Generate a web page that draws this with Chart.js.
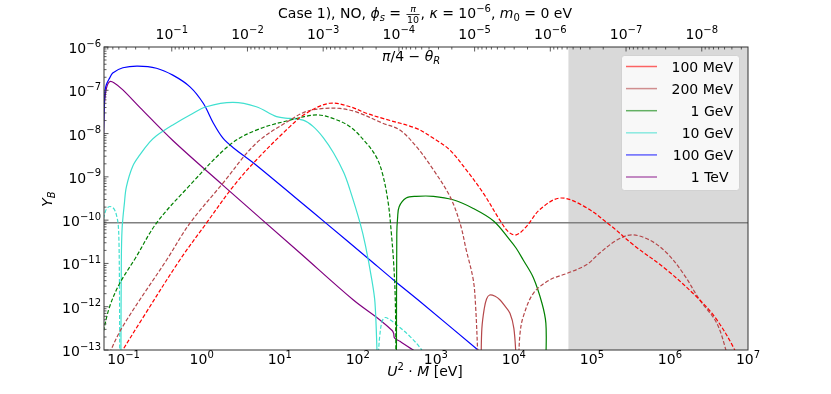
<!DOCTYPE html>
<html>
<head>
<meta charset="utf-8">
<script src="https://cdn.jsdelivr.net/npm/chart.js@4/dist/chart.umd.min.js"></script>
<style>
body { margin: 0; background: #fff; }
canvas { display: block; }
</style>
</head>
<body>
<canvas id="myChart" width="831" height="394"></canvas>
<script>
// curves, as [log10(U^2 M / eV), log10(Y_B)]
// dashed pieces are the negative branches (|Y_B| shown)
const red_dash = [[-1.08,-13.2],[-0.77,-12.30],[-0.28,-10.92],[0.06,-10.07],[0.40,-9.23],[0.70,-8.61],[1.13,-7.84],[1.34,-7.53],[1.64,-7.30],[1.90,-7.38],[2.11,-7.53],[2.32,-7.65],[2.75,-7.88],[2.97,-8.11],[3.18,-8.38],[3.39,-8.84],[3.61,-9.38],[3.82,-10.0],[3.93,-10.27],[4.03,-10.34],[4.16,-10.15],[4.33,-9.76],[4.59,-9.49],[4.89,-9.67],[5.23,-10.11],[5.53,-10.57],[5.96,-11.15],[6.38,-11.84],[6.60,-12.30],[6.83,-13.0],[6.85,-13.2]];

const brown_dash1 = [[-1.215,-13.2],[-1.01,-12.45],[-0.45,-10.92],[-0.15,-10.07],[0.27,-9.15],[0.70,-8.22],[1.13,-7.69],[1.34,-7.49],[1.56,-7.42],[1.77,-7.42],[1.98,-7.50],[2.32,-7.76],[2.54,-7.92],[2.75,-8.30],[2.97,-8.84],[3.18,-9.45],[3.31,-10.07],[3.39,-10.69],[3.48,-11.38],[3.51,-12.0],[3.54,-13.2]];
const brown_solid = [[3.58,-13.2],[3.59,-12.5],[3.62,-12.05],[3.65,-11.82],[3.69,-11.73],[3.76,-11.76],[3.82,-11.84],[3.88,-11.97],[3.95,-12.15],[4.00,-12.5],[4.03,-13.2]];
const brown_dash2 = [[4.06,-13.2],[4.08,-12.6],[4.12,-12.23],[4.25,-11.69],[4.46,-11.38],[4.68,-11.23],[4.93,-11.03],[5.10,-10.76],[5.32,-10.46],[5.51,-10.34],[5.74,-10.46],[5.96,-10.76],[6.17,-11.23],[6.38,-11.84],[6.60,-12.38],[6.75,-13.2]];

const green_dash = [[-1.26,-12.57],[-1.18,-12.0],[-1.05,-11.46],[-0.85,-10.88],[-0.58,-10.07],[-0.18,-9.25],[0.36,-8.26],[0.70,-7.92],[1.13,-7.69],[1.47,-7.57],[1.68,-7.65],[1.90,-7.84],[2.11,-8.22],[2.24,-8.55],[2.32,-8.95],[2.39,-9.6],[2.43,-10.3],[2.46,-11.0],[2.48,-11.8],[2.49,-13.2]];
const green_solid = [[2.495,-13.2],[2.50,-10.3],[2.51,-9.95],[2.53,-9.69],[2.62,-9.49],[2.75,-9.45],[2.97,-9.45],[3.22,-9.53],[3.48,-9.73],[3.74,-10.02],[3.95,-10.46],[4.03,-10.65],[4.12,-10.92],[4.25,-11.33],[4.36,-11.92],[4.41,-12.38],[4.412,-13.2]];

const cyan_dash1 = [[-1.26,-9.97],[-1.23,-9.78],[-1.20,-9.70],[-1.16,-9.69],[-1.12,-9.75],[-1.09,-9.90],[-1.07,-10.1],[-1.06,-10.5],[-1.055,-11.2],[-1.052,-12.0],[-1.05,-13.2]];
const cyan_solid = [[-1.035,-13.2],[-1.03,-11.0],[-1.02,-10.2],[-0.99,-9.6],[-0.965,-9.23],[-0.885,-8.76],[-0.795,-8.5],[-0.667,-8.2],[-0.58,-8.05],[-0.37,-7.80],[-0.15,-7.57],[0.06,-7.38],[0.40,-7.28],[0.70,-7.38],[0.96,-7.61],[1.13,-7.65],[1.30,-7.69],[1.43,-7.84],[1.56,-8.10],[1.69,-8.45],[1.82,-8.9],[1.90,-9.30],[2.03,-10.07],[2.10,-10.6],[2.18,-11.38],[2.22,-11.9],[2.25,-13.2]];
const cyan_dash2 = [[2.26,-13.2],[2.28,-12.7],[2.31,-12.35],[2.35,-12.25],[2.41,-12.3],[2.50,-12.42],[2.67,-12.69],[2.82,-13.0],[2.87,-13.2]];

const blue_solid = [[-1.26,-8.1],[-1.248,-7.3],[-1.238,-7.0],[-1.22,-6.86],[-1.18,-6.72],[-1.14,-6.60],[-1.01,-6.48],[-0.82,-6.44],[-0.58,-6.49],[-0.37,-6.65],[-0.15,-6.92],[0.02,-7.30],[0.15,-7.76],[0.27,-8.10],[0.40,-8.32],[0.70,-8.73],[1.26,-9.57],[1.60,-10.08],[2.11,-10.85],[2.47,-11.40],[2.77,-11.84],[3.54,-13.0],[3.60,-13.1]];

const purple_solid = [[-1.26,-8.1],[-1.245,-7.3],[-1.22,-6.95],[-1.18,-6.80],[-1.12,-6.83],[-1.01,-6.99],[-0.79,-7.40],[-0.37,-8.16],[0.27,-9.19],[1.26,-10.76],[1.94,-11.84],[2.28,-12.30],[2.44,-12.55],[2.46,-12.62],[2.47,-12.72],[2.54,-12.80],[2.71,-13.0],[2.79,-13.1]];

const labels = ['100 MeV', '200 MeV', '1 GeV', '10 GeV', '100 GeV', '1 TeV\u00a0'];
const colors = ['#ff0000', '#b5474a', '#008000', '#40e0d0', '#0000ff', '#800080'];

const xMin = 0.056, xMax = 1e7;
const yMin = 1e-13, yMax = 1e-6;
const topMin = 2.45e-9, topMax = 0.785;   // pi/4 - theta_R
const yObs = 8.7e-11;
const shadeFrom = 5e4;

const FONT = '"DejaVu Sans"';
function font(sz, it) {
    return (it ? 'italic ' : '') + sz + 'px ' + FONT;
}

function runWidth(ctx, r) {
    if (r.frac) {
        ctx.font = font(r.s || 9.5);
        return Math.max(ctx.measureText(r.frac[0]).width, ctx.measureText(r.frac[1]).width) + 3;
    }
    ctx.font = font(r.s || 14, r.i);
    return ctx.measureText(r.t).width;
}

// draws a list of text runs (sub/superscripts, italic symbols, a fraction)
function drawRuns(ctx, runs, x, y, align) {
    let w = 0;
    runs.forEach(r => { r.w = runWidth(ctx, r); w += r.w; });
    let cx = align === 'center' ? x - w / 2 : (align === 'right' ? x - w : x);
    ctx.textAlign = 'left';
    ctx.textBaseline = 'alphabetic';
    runs.forEach(r => {
        if (r.frac) {
            ctx.font = font(r.s || 9.5, true);
            let nw = ctx.measureText(r.frac[0]).width;
            ctx.fillText(r.frac[0], cx + (r.w - nw) / 2, y - 6.5);
            ctx.font = font(r.s || 9.5);
            let dw = ctx.measureText(r.frac[1]).width;
            ctx.fillText(r.frac[1], cx + (r.w - dw) / 2, y + 5);
            ctx.fillRect(cx + 1, y - 4, r.w - 2, 0.8);
        } else {
            ctx.font = font(r.s || 14, r.i);
            ctx.fillText(r.t, cx, y + (r.dy || 0));
        }
        cx += r.w;
    });
}

function pow10Runs(e) {
    let s = e < 0 ? '\u2212' + (-e) : '' + e;
    return [{t: '10'}, {t: s, s: 10, dy: -6.5}];
}

const decor = {
    id: 'decor',
    beforeDatasetsDraw(chart) {
        const {ctx, chartArea: a, scales} = chart;
        ctx.save();
        let x0 = scales.x.getPixelForValue(shadeFrom);
        ctx.fillStyle = '#d9d9d9';
        ctx.fillRect(x0, a.top, a.right - x0, a.bottom - a.top);
        let yl = scales.y.getPixelForValue(yObs);
        ctx.strokeStyle = '#808080';
        ctx.lineWidth = 1.5;
        ctx.beginPath();
        ctx.moveTo(a.left, yl);
        ctx.lineTo(a.right, yl);
        ctx.stroke();
        ctx.restore();
    },
    afterDatasetsDraw(chart) {
        // legend
        const ctx = chart.ctx;
        ctx.save();
        ctx.beginPath();
        ctx.roundRect(621.5, 55.5, 118, 135, 3);
        ctx.fillStyle = 'rgba(255,255,255,0.8)';
        ctx.fill();
        ctx.strokeStyle = 'rgba(204,204,204,0.8)';
        ctx.lineWidth = 1;
        ctx.stroke();
        for (let i = 0; i < labels.length; i++) {
            let y = 66.5 + i * 22.1;
            ctx.globalAlpha = 0.6;
            ctx.strokeStyle = colors[i];
            ctx.lineWidth = 1.5;
            ctx.beginPath();
            ctx.moveTo(626, y);
            ctx.lineTo(657, y);
            ctx.stroke();
            ctx.globalAlpha = 1;
            ctx.fillStyle = '#000';
            ctx.font = font(14);
            ctx.textAlign = 'right';
            ctx.textBaseline = 'alphabetic';
            ctx.fillText(labels[i], 733, y + 5);
        }
        ctx.restore();
    },
    afterDraw(chart) {
        const {ctx, chartArea: a, scales} = chart;
        const xs = scales.x, ys = scales.y, xt = scales.x2;
        ctx.save();
        // frame
        ctx.strokeStyle = '#333';
        ctx.lineWidth = 1;
        ctx.strokeRect(a.left, a.top, a.right - a.left, a.bottom - a.top);

        // ticks (inward) on left and top
        ctx.lineWidth = 0.8;
        ctx.beginPath();
        for (let e = -13; e <= -6; e++) {
            let y = ys.getPixelForValue(Math.pow(10, e));
            ctx.moveTo(a.left, y); ctx.lineTo(a.left + 4.5, y);
            if (e < -6) {
                for (let k = 2; k <= 9; k++) {
                    let ym = ys.getPixelForValue(k * Math.pow(10, e));
                    ctx.moveTo(a.left, ym); ctx.lineTo(a.left + 2.5, ym);
                }
            }
        }
        for (let e = -9; e <= -1; e++) {
            let v = Math.pow(10, e);
            if (v >= topMin && v <= topMax) {
                let x = xt.getPixelForValue(v);
                ctx.moveTo(x, a.top); ctx.lineTo(x, a.top + 4.5);
            }
            for (let k = 2; k <= 9; k++) {
                let vm = k * v;
                if (vm < topMin || vm > topMax) continue;
                let xm = xt.getPixelForValue(vm);
                ctx.moveTo(xm, a.top); ctx.lineTo(xm, a.top + 2.5);
            }
        }
        ctx.stroke();

        // tick labels
        ctx.fillStyle = '#000';
        for (let e = -13; e <= -6; e++) {
            drawRuns(ctx, pow10Runs(e), 101, ys.getPixelForValue(Math.pow(10, e)) + 6, 'right');
        }
        for (let e = -1; e <= 7; e++) {
            drawRuns(ctx, pow10Runs(e), xs.getPixelForValue(Math.pow(10, e)), 364, 'center');
        }
        for (let e = -8; e <= -1; e++) {
            drawRuns(ctx, pow10Runs(e), xt.getPixelForValue(Math.pow(10, e)), 39, 'center');
        }

        // axis labels
        drawRuns(ctx, [{t: 'U', i: true}, {t: '2', s: 10, dy: -6}, {t: ' \u00b7 '}, {t: 'M', i: true}, {t: ' [eV]'}], 425, 376, 'center');
        drawRuns(ctx, [{t: '\u03c0', i: true}, {t: '/4 \u2212 '}, {t: '\u03b8', i: true}, {t: 'R', s: 10, i: true, dy: 3}], 382, 61, 'left');
        ctx.save();
        ctx.translate(52, 199);
        ctx.rotate(-Math.PI / 2);
        drawRuns(ctx, [{t: 'Y', i: true}, {t: 'B', s: 10, i: true, dy: 3}], 0, 0, 'center');
        ctx.restore();

        // title
        drawRuns(ctx, [
            {t: 'Case 1), NO, '},
            {t: '\u03d5', i: true}, {t: 's', s: 10, i: true, dy: 3},
            {t: ' = '}, {frac: ['\u03c0', '10']},
            {t: ', '}, {t: '\u03ba', i: true}, {t: ' = 10'}, {t: '\u22126', s: 10, dy: -6.5},
            {t: ', '}, {t: 'm', i: true}, {t: '0', s: 10, dy: 3}, {t: ' = 0 eV'}
        ], 425, 18, 'center');
        ctx.restore();
    }
};

function toPoints(arr) {
    return arr.map(p => ({x: Math.pow(10, p[0]), y: Math.pow(10, p[1])}));
}

const pieces = [
    [red_dash, 0, true],
    [brown_dash1, 1, true], [brown_solid, 1, false], [brown_dash2, 1, true],
    [green_dash, 2, true], [green_solid, 2, false],
    [cyan_dash1, 3, true], [cyan_solid, 3, false], [cyan_dash2, 3, true],
    [blue_solid, 4, false],
    [purple_solid, 5, false]
];

const datasets = pieces.map(p => ({
    label: labels[p[1]],
    data: toPoints(p[0]),
    showLine: true,
    borderColor: colors[p[1]],
    borderWidth: 1.2,
    borderDash: p[2] ? [4, 2] : [],
    pointRadius: 0,
    fill: false,
    tension: 0.35
}));

const config = {
    type: 'scatter',
    data: {datasets: datasets},
    options: {
        responsive: false,
        animation: false,
        devicePixelRatio: 1,
        layout: {padding: {left: 0, right: 83, top: 0, bottom: 0}},
        plugins: {legend: {display: false}, tooltip: {enabled: false}},
        scales: {
            x: {
                type: 'logarithmic', position: 'bottom', min: xMin, max: xMax,
                grid: {display: false}, border: {display: false}, ticks: {display: false},
                afterFit: s => { s.height = 44; }
            },
            x2: {
                type: 'logarithmic', axis: 'x', position: 'top', min: topMin, max: topMax, reverse: true,
                grid: {display: false}, border: {display: false}, ticks: {display: false},
                afterFit: s => { s.height = 47; }
            },
            y: {
                type: 'logarithmic', position: 'left', min: yMin, max: yMax,
                grid: {display: false}, border: {display: false}, ticks: {display: false},
                afterFit: s => { s.width = 104; }
            }
        }
    },
    plugins: [decor]
};

let c = document.getElementById('myChart').getContext('2d');
new Chart(c, config);
</script>
</body>
</html>
